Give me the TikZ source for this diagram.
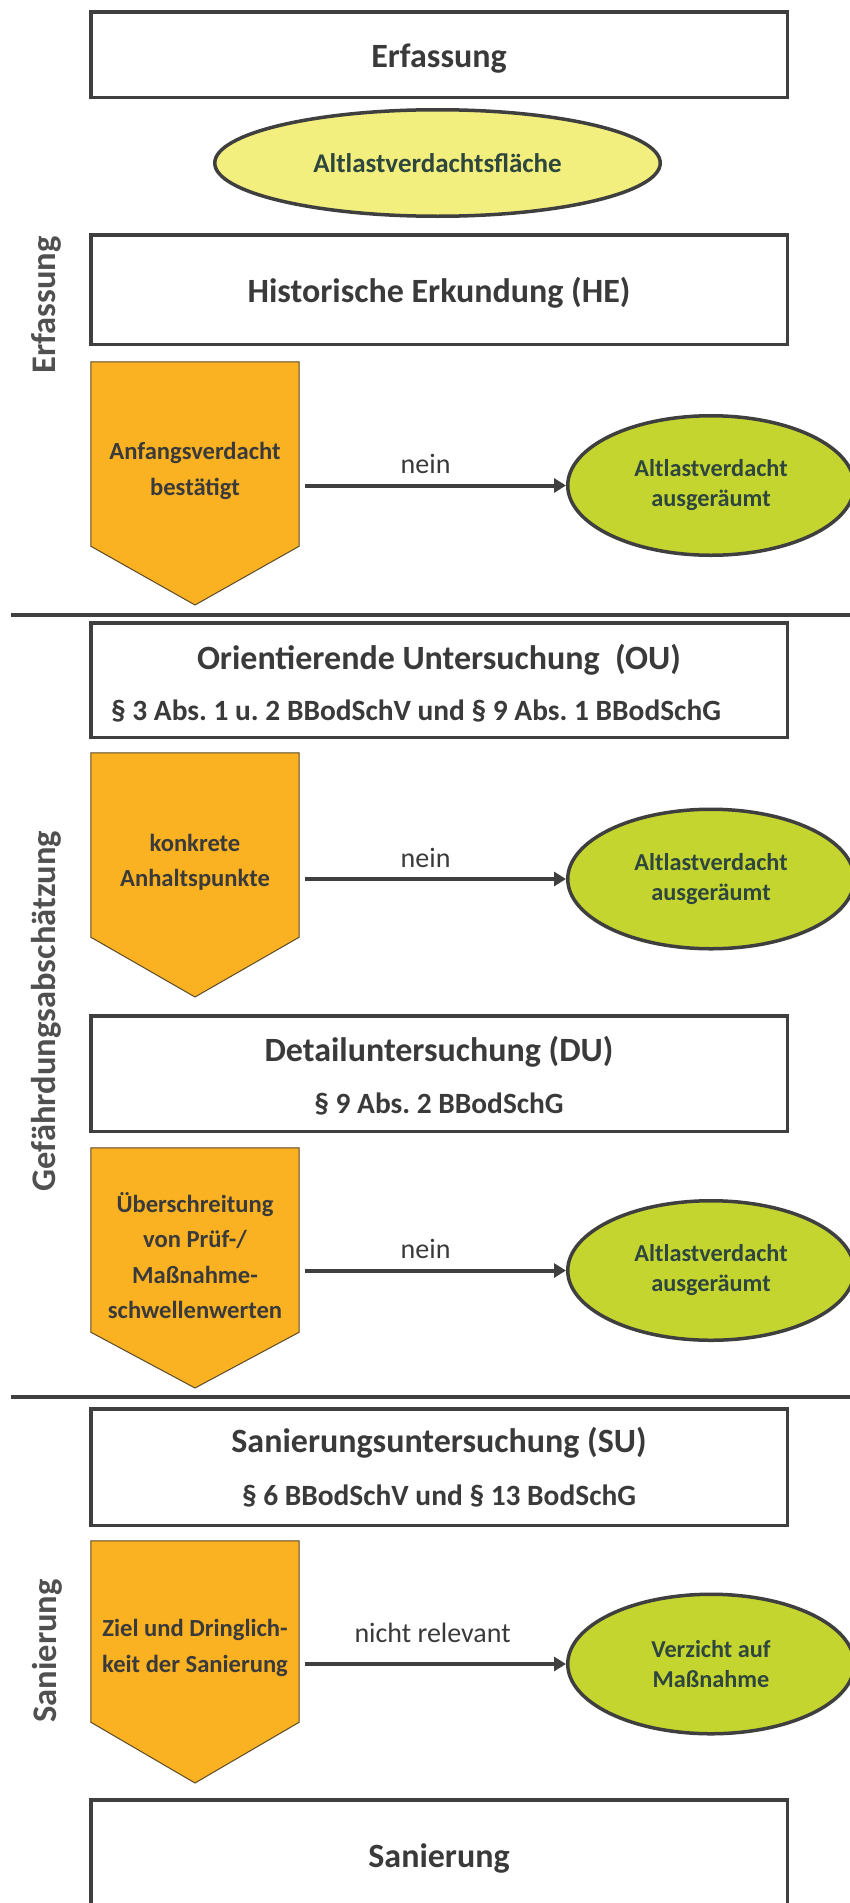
\documentclass[tikz,border=0pt]{standalone}
\usepackage{fontspec}
\setmainfont{Carlito}
\usetikzlibrary{shapes.geometric,arrows.meta}
\definecolor{boxgray}{HTML}{3F3F3F}
\definecolor{txtgray}{HTML}{3A3A3A}
\definecolor{pentorange}{HTML}{FAB122}
\definecolor{pentline}{HTML}{5A4A2A}
\definecolor{ellyellow}{HTML}{F2EF7E}
\definecolor{ellgreen}{HTML}{C5D52F}
\definecolor{elltext}{HTML}{2E463D}
\definecolor{sidegray}{HTML}{505050}
\frenchspacing
\begin{document}
\begin{tikzpicture}[x=1pt,y=-1pt,
  stagebox/.style={rectangle, draw=boxgray, line width=3.5pt, fill=white, minimum width=696.5pt, inner sep=0pt},
  titletxt/.style={font=\bfseries\fontsize{34}{40}\selectfont, text=txtgray, inner sep=0pt, anchor=base},
  subtxt/.style={font=\bfseries\fontsize{29.4}{34}\selectfont, text=txtgray, inner sep=0pt, anchor=base},
  pentbody/.style={rectangle, minimum width=208pt, inner sep=0pt},
  pentfill/.style={fill=pentorange, draw=pentline, line width=1pt, line join=miter},
  penttxt/.style={font=\bfseries\fontsize{24.6}{35.5}\selectfont, text=txtgray, align=center, inner sep=0pt},
  startell/.style={ellipse, draw=boxgray, line width=3.5pt, fill=ellyellow, minimum width=445.5pt, minimum height=106.5pt, inner sep=0pt, font=\bfseries\fontsize{27}{32}\selectfont, text=elltext},
  verdict/.style={ellipse, draw=boxgray, line width=3.5pt, fill=ellgreen, minimum width=286.5pt, minimum height=139.5pt, inner sep=0pt, font=\bfseries\fontsize{24.3}{30}\selectfont, text=elltext, align=center},
  flow/.style={draw=boxgray, line width=4pt, -{Triangle[length=12pt,width=14pt]}, shorten <=6pt},
  lbl/.style={font=\fontsize{28}{32}\selectfont, text=txtgray, inner sep=0pt, anchor=base},
  side/.style={rotate=90, anchor=base, font=\bfseries\fontsize{34.5}{40}\selectfont, text=sidegray, inner sep=0pt},
  sepline/.style={draw=boxgray, line width=4pt}
]
\useasboundingbox (0,0) rectangle (850,1903);
\fill[white] (0,0) rectangle (850,1903);
\clip (0,0) rectangle (850,1903);

% ---------- section separators ----------
\coordinate (s1l) at (11,615);
\coordinate (s1r) at (850,615);
\coordinate (s2l) at (11,1397);
\coordinate (s2r) at (850,1397);
\draw[sepline] (s1l) -- (s1r);
\draw[sepline] (s2l) -- (s2r);

% ---------- side labels ----------
\node[side] (lab1) at (55,305) {Erfassung};
\node[side] (lab2) at (55,1011) {Gefährdungsabschätzung};
\node[side] (lab3) at (56,1651) {Sanierung};

% ---------- Erfassung ----------
\node[stagebox, minimum height=85.5pt] (erf) at (439,54.5) {};
\node[titletxt] (erft) at (439,67) {Erfassung};

\node[startell] (avf) at (437.5,163) {Altlastverdachtsfläche};

\node[stagebox, minimum height=109.5pt] (he) at (439,289.5) {};
\node[titletxt] (het) at (439,302) {Historische Erkundung (HE)};

\node[pentbody, minimum height=184pt] (b1) at (195,454) {};
\coordinate (tip1) at (195,605);
\path[pentfill] (b1.north west) -- (b1.north east) -- (b1.south east) -- (tip1) -- (b1.south west) -- cycle;
\node[penttxt] (t1) at (195,471) {Anfangsverdacht\\bestätigt};

\node[verdict] (g1) at (711,485.5) {Altlastverdacht\\ausgeräumt};
\draw[flow] (b1.east |- g1.west) -- node[lbl, midway, yshift=12pt, xshift=-7pt] {nein} (g1.west);

% ---------- Gefährdungsabschätzung ----------
\node[stagebox, minimum height=114.5pt] (ou) at (439,680) {};
\node[titletxt] (out) at (439,669) {Orientierende Untersuchung\ \ (OU)};
\node[subtxt] (ous) at (416,720) {§ 3 Abs. 1 u. 2 BBodSchV und § 9 Abs. 1 BBodSchG};

\node[pentbody, minimum height=184pt] (b2) at (195,845) {};
\coordinate (tip2) at (195,997);
\path[pentfill] (b2.north west) -- (b2.north east) -- (b2.south east) -- (tip2) -- (b2.south west) -- cycle;
\node[penttxt] (t2) at (195,862.5) {konkrete\\Anhaltspunkte};

\node[verdict] (g2) at (711,879) {Altlastverdacht\\ausgeräumt};
\draw[flow] (b2.east |- g2.west) -- node[lbl, midway, yshift=12pt, xshift=-7pt] {nein} (g2.west);

\node[stagebox, minimum height=115.5pt] (du) at (439,1073.5) {};
\node[titletxt] (dut) at (439,1061) {Detailuntersuchung (DU)};
\node[subtxt] (dus) at (439,1113) {§ 9 Abs. 2 BBodSchG};

\node[pentbody, minimum height=184pt] (b3) at (195,1240) {};
\coordinate (tip3) at (195,1388);
\path[pentfill] (b3.north west) -- (b3.north east) -- (b3.south east) -- (tip3) -- (b3.south west) -- cycle;
\node[penttxt] (t3) at (195,1255.5) {Überschreitung\\von Prüf-/\\Maßnahme-\\schwellenwerten};

\node[verdict] (g3) at (711,1270.5) {Altlastverdacht\\ausgeräumt};
\draw[flow] (b3.east |- g3.west) -- node[lbl, midway, yshift=12pt, xshift=-7pt] {nein} (g3.west);

% ---------- Sanierung ----------
\node[stagebox, minimum height=116.5pt] (su) at (439,1467) {};
\node[titletxt] (sut) at (439,1452) {Sanierungsuntersuchung (SU)};
\node[subtxt] (sus) at (439,1505) {§ 6 BBodSchV und § 13 BodSchG};

\node[pentbody, minimum height=181pt] (b4) at (195,1631.5) {};
\coordinate (tip4) at (195,1783);
\path[pentfill] (b4.north west) -- (b4.north east) -- (b4.south east) -- (tip4) -- (b4.south west) -- cycle;
\node[penttxt] (t4) at (195,1648) {Ziel und Dringlich-\\keit der Sanierung};

\node[verdict] (g4) at (711,1664) {Verzicht auf\\Maßnahme};
\draw[flow] (b4.east |- g4.west) -- node[lbl, midway, yshift=22pt] {nicht relevant} (g4.west);

\node[stagebox, minimum height=200pt] (san) at (439,1900) {};
\node[titletxt] (sant) at (439,1867) {Sanierung};
\end{tikzpicture}
\end{document}
